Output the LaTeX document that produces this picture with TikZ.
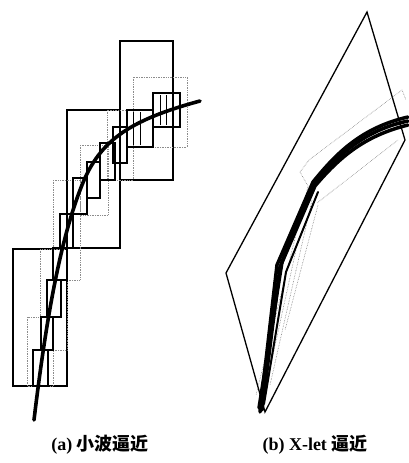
\documentclass[tikz,border=0pt]{standalone}
\usepackage{fontspec}
\setmainfont{Liberation Serif}
\newfontfamily\cjk{Noto Sans CJK SC}
\begin{document}
\begin{tikzpicture}[x=1pt,y=-1pt,
  solidbox/.style={draw=black,line width=1.8pt},
  dotbox/.style={draw=black!45,line width=0.7pt,densely dotted},
  thickcurve/.style={draw=black,line width=3.6pt,line cap=round},
  frame/.style={draw=black,line width=1.3pt,line join=miter},
  thinline/.style={draw=black!50,line width=0.6pt,densely dotted},
  caption/.style={font=\fontsize{18pt}{21pt}\selectfont\bfseries,anchor=center,inner sep=0pt}]
\useasboundingbox (0,0) rectangle (408,463);
% ---------- (a) wavelet ----------
% large solid boxes
\draw[solidbox] (120,41) rectangle (173,180);
\draw[solidbox] (67,110) rectangle (120,248);
\draw[solidbox] (13,249) rectangle (67,386);
% dotted boxes
\draw[dotbox] (133,77) rectangle (187,147);
\draw[dotbox] (107,110) rectangle (133,180);
\draw[dotbox] (80,145) rectangle (108,215);
\draw[dotbox] (53,180) rectangle (80,280);
\draw[dotbox] (40,249) rectangle (67,350);
\draw[dotbox] (27,317) rectangle (53,386);
% small solid staircase boxes
\draw[solidbox,line width=1.5pt] (153,93) rectangle (180,127);
\draw[solidbox,line width=1.5pt] (127,110) rectangle (153,147);
\draw[solidbox,line width=1.5pt] (113,127) rectangle (127,163);
\draw[solidbox,line width=1.5pt] (100,143) rectangle (115,180);
\draw[solidbox,line width=1.5pt] (87,162) rectangle (100,198);
\draw[solidbox,line width=1.5pt] (73,178) rectangle (87,214);
\draw[solidbox,line width=1.5pt] (60,214) rectangle (73,248);
\draw[solidbox,line width=1.5pt] (53,248) rectangle (67,280);
\draw[solidbox,line width=1.5pt] (47,280) rectangle (61,317);
\draw[solidbox,line width=1.5pt] (41,317) rectangle (53,350);
\draw[solidbox,line width=1.5pt] (33,350) rectangle (48,386);
% hatching
\foreach \hx in {160,166,172} \draw[black,line width=0.8pt] (\hx,95) -- (\hx,125);
\foreach \hx in {133,140} \draw[black,line width=0.8pt] (\hx,112) -- (\hx,145);
% the curve
\draw[thickcurve] (34,420) .. controls (46,320) and (60,240) .. (82,185)
  .. controls (100,140) and (130,120) .. (200,101);
% ---------- (b) X-let ----------
\draw[frame] (367,12) -- (405,140) -- (265,412) -- (226,273) -- cycle;
% thin dotted lines
\draw[thinline] (300,172) -- (309,160) -- (402,90) -- (406,100);
\draw[thinline] (317,203) -- (398,140);
\draw[thinline] (300,172) -- (308,186) -- (256,395);
\draw[thinline] (312,200) -- (270,385);
\draw[thinline] (318,205) -- (285,330);
\draw[thinline] (296,250) -- (262,405);
% thick X-let curves
\draw[thickcurve,line width=3.5pt] (260,412) -- (277,265) -- (313,182) .. controls (335,155) and (360,128) .. (408,117);
\draw[thickcurve,line width=3.5pt] (262,410) -- (280,267) -- (315,186) .. controls (338,159) and (363,136) .. (408,125);
\draw[thickcurve,line width=3.5pt] (259,408) -- (282,262) -- (311,189) .. controls (332,161) and (360,131) .. (408,121);
\draw[thickcurve,line width=2pt] (264,404) -- (286,272) -- (318,192);
% ---------- captions ----------
\node[caption] (capa) at (100,445) {(a) {\cjk\bfseries 小波逼近}};
\node[caption] (capb) at (315,445) {(b) X-let {\cjk\bfseries 逼近}};
\end{tikzpicture}
\end{document}
